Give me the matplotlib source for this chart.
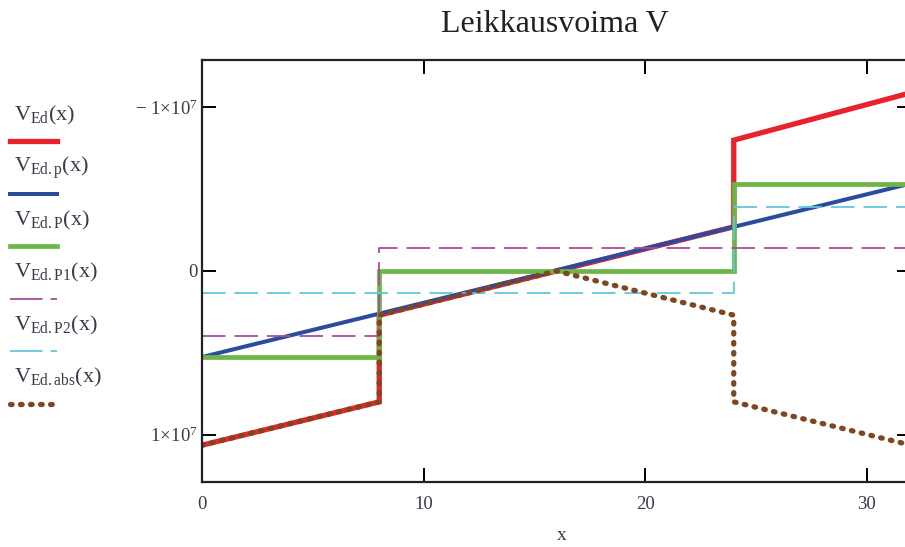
import matplotlib
matplotlib.use("Agg")
import matplotlib.pyplot as plt
from matplotlib.lines import Line2D

plt.rcParams['mathtext.fontset'] = 'custom'
plt.rcParams['mathtext.rm'] = 'Liberation Serif'
plt.rcParams['mathtext.it'] = 'Liberation Serif:italic'
plt.rcParams['font.family'] = ['Liberation Serif', 'DejaVu Serif']

# ---- data (x positions, values in N) ----
x_ed = [0, 8, 8, 24, 24, 32]
v_ed = [1.065e7, 0.80e7, 0.27e7, -0.27e7, -0.80e7, -1.09e7]

x_p = [0, 32]
v_p = [0.526e7, -0.535e7]

x_P = [0, 8, 8, 24, 24, 32]
v_P = [0.526e7, 0.526e7, 0.0, 0.0, -0.532e7, -0.532e7]

x_P1 = [0, 8, 8, 32]
v_P1 = [0.40e7, 0.40e7, -0.14e7, -0.14e7]

x_P2 = [0, 24, 24, 32]
v_P2 = [0.135e7, 0.135e7, -0.39e7, -0.39e7]

x_abs = [0, 8, 8, 16, 24, 24, 32]
v_abs = [1.065e7, 0.80e7, 0.27e7, 0.0, 0.27e7, 0.80e7, 1.065e7]

xticks = [0, 10, 20, 30]
yticks = [-1e7, 0, 1e7]
ytick_labels = [r'$-\ 1\!\times\!10^{7}$', '0', r'$1\!\times\!10^{7}$']

legend_labels = [r'$\mathrm{V_{Ed}(x)}$', r'$\mathrm{V_{Ed.p}(x)}$', r'$\mathrm{V_{Ed.P}(x)}$',
                 r'$\mathrm{V_{Ed.P1}(x)}$', r'$\mathrm{V_{Ed.P2}(x)}$', r'$\mathrm{V_{Ed.abs}(x)}$']

c_red = '#e8232b'
c_blue = '#2b4c9e'
c_green = '#6bb646'
c_mag = '#a84c9c'
c_cyan = '#62c6dc'
c_brown = '#7f4620'
c_text = '#3a3a4a'

W, H = 905, 547
fig = plt.figure(figsize=(W / 100, H / 100), dpi=100)
ax_left, ax_right, ax_top, ax_bot = 202, 911, 60, 482
ax = fig.add_axes([ax_left / W, 1 - ax_bot / H, (ax_right - ax_left) / W, (ax_bot - ax_top) / H])

styles = [
    dict(color=c_red, lw=3.8, solid_joinstyle='miter'),
    dict(color=c_blue, lw=2.9),
    dict(color=c_green, lw=3.4, solid_joinstyle='miter'),
    dict(color=c_mag, lw=1.3, dashes=(13, 5)),
    dict(color=c_cyan, lw=1.3, dashes=(13, 5)),
    dict(color=c_brown, lw=3.8, dashes=(0.3, 1.6), dash_capstyle='round'),
]
series = [(x_ed, v_ed), (x_p, v_p), (x_P, v_P), (x_P1, v_P1), (x_P2, v_P2), (x_abs, v_abs)]
for (xs, vs), st in zip(series, styles):
    ax.plot(xs, vs, **st)

ax.set_xlim(0, 32)
ax.set_ylim(1.29e7, -1.29e7)
ax.set_xticks(xticks)
ax.set_xticklabels([str(t) for t in xticks])
ax.set_yticks(yticks)
ax.set_yticklabels(ytick_labels)
ax.tick_params(direction='in', length=10, width=1.4, top=True, right=True,
               labelsize=13.5, labelcolor=c_text)
ax.tick_params(axis='x', pad=10)
ax.tick_params(axis='y', pad=3)
for s in ax.spines.values():
    s.set_linewidth(1.6)
    s.set_color('#222222')

fig.text(562 / W, 1 - 535 / H, 'x', ha='center', va='center', fontsize=14, color=c_text)
fig.text(555 / W, 1 - 25 / H, 'Leikkausvoima V', ha='center', va='center', fontsize=23, color='#222222')

# legend on the left
leg_dashes = [None, None, None, (18, 4.5), (18, 4.5), (0.3, 1.6)]
for i, (lab, st) in enumerate(zip(legend_labels, styles)):
    ty = 115 + i * 52.5
    ly = 141 + i * 52.5
    fig.text(14 / W, 1 - ty / H, lab, ha='left', va='center', fontsize=16, color=c_text)
    st2 = dict(st)
    if leg_dashes[i] is not None:
        st2['dashes'] = leg_dashes[i]
    fig.add_artist(Line2D([10 / W, 57 / W], [1 - ly / H, 1 - ly / H], transform=fig.transFigure, **st2))

fig.savefig('out.png', dpi=100)
